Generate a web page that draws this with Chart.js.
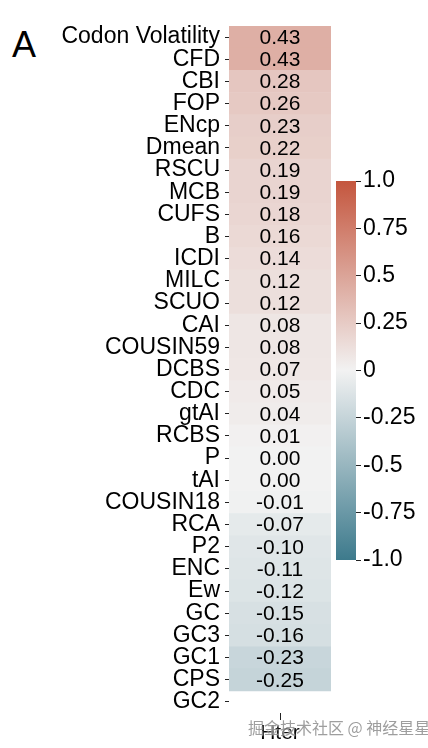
<!DOCTYPE html>
<html>
<head>
<meta charset="utf-8">
<script src="https://cdn.jsdelivr.net/npm/chart.js@4"></script>
<style>
    body {
        margin: 0;
        width: 428px;
        height: 748px;
        overflow: hidden;
        position: relative;
        background: #fff;
        font-family: 'Liberation Sans', Arial, sans-serif;
    }

    canvas {
        position: absolute;
        left: 0;
        top: 0;
    }

    .panel {
        position: absolute;
        left: 12px;
        top: 24px;
        font-size: 36px;
        color: #000;
    }

    .mark {
        position: absolute;
        left: 248px;
        top: 715px;
        white-space: nowrap;
        font: 16px 'Noto Sans CJK SC', sans-serif;
        color: rgba(125, 125, 125, 0.75);
        text-shadow: 0 0 2px #fff;
    }
</style>
</head>
<body>
<div class="panel">A</div>
<canvas id="heat" width="428" height="748"></canvas>
<canvas id="colorbar" width="428" height="748"></canvas>
<div class="mark">掘金技术社区 @ 神经星星</div>
<script>
// rows of the heatmap, top to bottom
const metrics = [
    'Codon Volatility', 'CFD', 'CBI', 'FOP', 'ENcp', 'Dmean', 'RSCU', 'MCB',
    'CUFS', 'B', 'ICDI', 'MILC', 'SCUO', 'CAI', 'COUSIN59', 'DCBS', 'CDC',
    'gtAI', 'RCBS', 'P', 'tAI', 'COUSIN18', 'RCA', 'P2', 'ENC', 'Ew', 'GC',
    'GC3', 'GC1', 'CPS', 'GC2'
];
const columns = ['Hter'];
// correlation with Hter (GC2 has no value)
const hterValues = [
    0.43, 0.43, 0.28, 0.26, 0.23, 0.22, 0.19, 0.19,
    0.18, 0.16, 0.14, 0.12, 0.12, 0.08, 0.08, 0.07, 0.05,
    0.04, 0.01, 0.00, 0.00, -0.01, -0.07, -0.10, -0.11, -0.12, -0.15,
    -0.16, -0.23, -0.25, null
];
const colorbarTicks = [-1, -0.75, -0.5, -0.25, 0, 0.25, 0.5, 0.75, 1];

// diverging palette (blue - light grey - red)
const LOW = [61, 122, 140];
const MID = [242, 242, 242];
const HIGH = [196, 86, 62];

function cmap(v) {
    const t = Math.max(-1, Math.min(1, v));
    const end = t < 0 ? LOW : HIGH;
    const a = Math.abs(t);
    const rgb = MID.map((m, i) => Math.round(m + (end[i] - m) * a));
    return `rgb(${rgb.join(',')})`;
}

Chart.defaults.font.family = "'Liberation Sans', Arial, sans-serif";
Chart.defaults.color = '#000';

// Write the value in the middle of each cell
const cellText = {
    id: 'cellText',
    afterDatasetsDraw(chart) {
        const { ctx } = chart;
        const meta = chart.getDatasetMeta(0);

        ctx.save();
        ctx.font = "21px 'Liberation Sans', Arial, sans-serif";
        ctx.fillStyle = '#000';
        ctx.textAlign = 'center';
        ctx.textBaseline = 'middle';

        meta.data.forEach((bar, i) => {
            const v = hterValues[i];

            if (v === null) {
                return;
            }

            ctx.fillText(v.toFixed(2), (bar.x + bar.base) / 2, bar.y + 1);
        });
        ctx.restore();
    }
};

new Chart(document.getElementById('heat'), {
    type: 'bar',
    data: {
        labels: metrics,
        datasets: [{
            data: hterValues.map(v => v === null ? null : [0, 1]),
            backgroundColor: hterValues.map(v => v === null ? 'rgba(0,0,0,0)' : cmap(v)),
            borderWidth: 0,
            barPercentage: 1,
            categoryPercentage: 1
        }]
    },
    options: {
        indexAxis: 'y',
        responsive: false,
        animation: false,
        events: [],
        layout: {
            padding: { top: 26, right: 97, left: 0, bottom: 0 }
        },
        plugins: {
            legend: { display: false },
            tooltip: { enabled: false }
        },
        scales: {
            y: {
                afterFit: (scale) => { scale.width = 229; },
                border: { display: false },
                grid: { offset: false, drawOnChartArea: false, tickLength: 4, color: '#222' },
                ticks: { autoSkip: false, padding: 5, font: { size: 23 } }
            },
            x: {
                min: 0,
                max: 1,
                afterFit: (scale) => { scale.height = 35; },
                afterBuildTicks: (scale) => {
                    scale.ticks = columns.map((c, i) => ({ value: (i + 0.5) / columns.length }));
                },
                border: { display: false },
                grid: { drawOnChartArea: false, tickLength: 7, color: '#222' },
                ticks: {
                    callback: (value, index) => columns[index],
                    maxRotation: 0,
                    padding: 1,
                    font: { size: 21 }
                }
            }
        }
    },
    plugins: [cellText]
});

// colour bar drawn as one floating bar from -1 to 1
new Chart(document.getElementById('colorbar'), {
    type: 'bar',
    data: {
        labels: [''],
        datasets: [{
            data: [[-1, 1]],
            backgroundColor: (context) => {
                const chart = context.chart;

                if (!chart.chartArea) {
                    return cmap(0);
                }

                const y = chart.scales.y;
                const top = y.getPixelForValue(1);
                const bottom = y.getPixelForValue(-1);
                const gradient = chart.ctx.createLinearGradient(0, top, 0, bottom);

                colorbarTicks.forEach(v => {
                    gradient.addColorStop((1 - v) / 2, cmap(v));
                });

                return gradient;
            },
            borderWidth: 0,
            barPercentage: 1,
            categoryPercentage: 1
        }]
    },
    options: {
        responsive: false,
        animation: false,
        events: [],
        layout: {
            padding: { left: 336, top: 181, bottom: 188, right: 0 }
        },
        plugins: {
            legend: { display: false },
            tooltip: { enabled: false }
        },
        scales: {
            x: { display: false },
            y: {
                position: 'right',
                min: -1,
                max: 1,
                afterFit: (scale) => { scale.width = 72; },
                border: { display: false },
                grid: { drawOnChartArea: false, tickLength: 5, color: '#222' },
                ticks: {
                    stepSize: 0.25,
                    autoSkip: false,
                    padding: 2,
                    font: { size: 23 },
                    callback: (v) => {
                        if (v === 0) {
                            return '0';
                        }

                        return Math.abs(v) === 1 ? v.toFixed(1) : String(v);
                    }
                }
            }
        }
    }
});
</script>
</body>
</html>
